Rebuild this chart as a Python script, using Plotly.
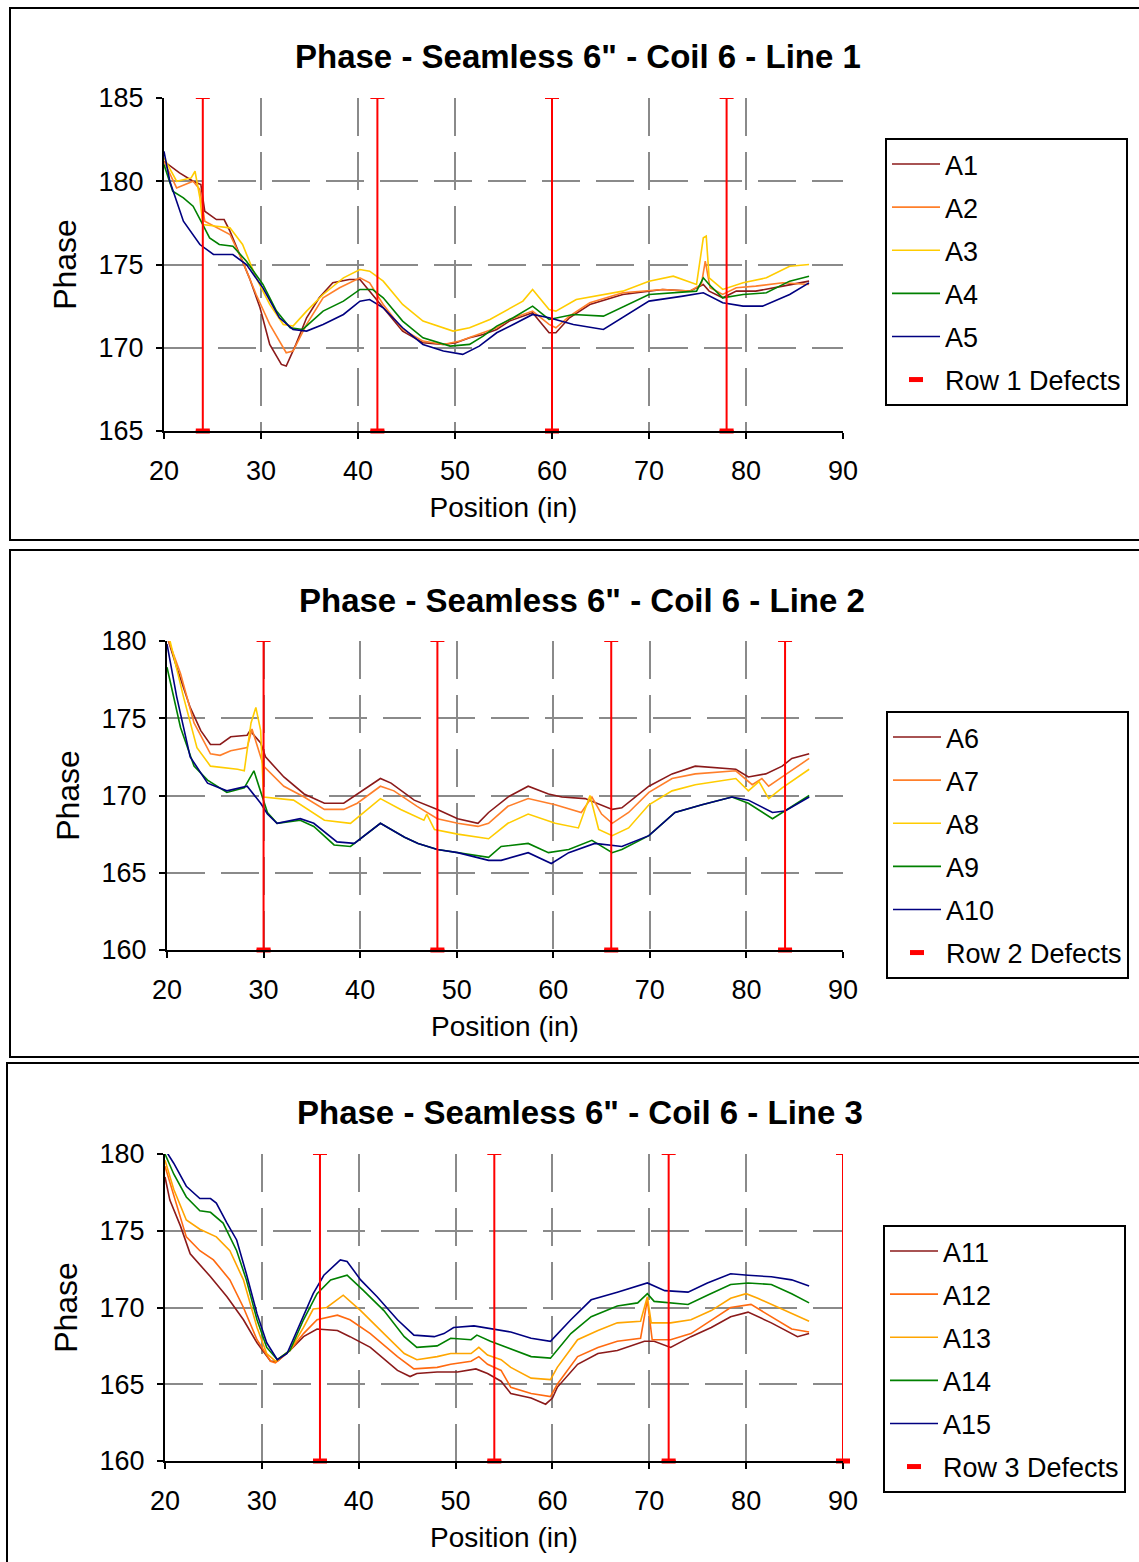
import plotly.graph_objects as go

W, H = 1139, 1562

# ---------------- data ----------------
TITLES = ['Phase - Seamless 6" - Coil 6 - Line 1',
          'Phase - Seamless 6" - Coil 6 - Line 2',
          'Phase - Seamless 6" - Coil 6 - Line 3']
X_TICKS = [20, 30, 40, 50, 60, 70, 80, 90]
Y_RANGES = [(165, 185), (160, 180), (160, 180)]

# Line 1
A1_X = [20, 21.6, 23, 23.8, 24.2, 25.4, 26.2, 26.8, 27.8, 28.8, 29.9, 30.9, 32.1, 32.6, 33.6, 34.7, 36, 37.4, 39.1, 40.2, 41.2, 42.6, 44.6, 46.7, 48.8, 50.1, 51.5, 52.9, 54.3, 55.6, 58, 59.7, 60.4, 61.8, 63.9, 67.3, 71.4, 74.2, 75.6, 76.2, 77.6, 79, 81, 83.8, 86.5]
A1_Y = [181.2, 180.5, 180, 179.8, 178.2, 177.7, 177.7, 177, 175.6, 174.2, 172.4, 170.2, 169, 168.9, 170.2, 171.8, 173, 173.9, 174.1, 174.1, 173.4, 172.4, 171, 170.3, 170.2, 170.3, 170.6, 170.8, 171.1, 171.6, 172.1, 170.9, 170.9, 171.8, 172.6, 173.2, 173.5, 173.4, 173.8, 173.4, 173, 173.4, 173.4, 173.7, 174]
A2_X = [20, 21.3, 23, 23.7, 24.2, 26.8, 28.1, 29.5, 30.9, 32.6, 33.3, 34.7, 36.4, 38.1, 40.2, 41.2, 42.6, 44.6, 46.7, 48.8, 50.5, 52.9, 54.3, 55.6, 58, 59.7, 60.4, 61.8, 63.9, 67.3, 71.4, 74.2, 75.4, 75.8, 76.3, 77.6, 79, 81, 83.8, 86.5]
A2_Y = [181.2, 179.6, 180, 179.5, 177.6, 176.8, 175.2, 173.2, 171.4, 169.7, 169.8, 171.4, 173, 173.6, 174.2, 173.9, 172.6, 171.1, 170.4, 170.2, 170.4, 170.9, 171.2, 171.7, 172.2, 171.4, 171.2, 171.9, 172.7, 173.3, 173.5, 173.4, 173.8, 175.2, 173.6, 173.2, 173.6, 173.7, 173.9, 173.8]
A3_X = [20, 21.3, 22.8, 23.2, 23.7, 24, 25.4, 26.8, 28.1, 29.5, 30.9, 32.3, 33.3, 34.7, 36.4, 38.5, 40.2, 41.2, 42.6, 44.6, 46.7, 48.8, 49.8, 51.5, 53.6, 57, 58, 59.7, 60.4, 62.5, 67.3, 70, 72.5, 74.9, 75.6, 75.9, 76.2, 77.6, 79.7, 82.1, 84.5, 86.5]
A3_Y = [181.4, 180, 180.2, 180.6, 179, 177.4, 177.3, 177.2, 176.2, 174.2, 172.6, 171.4, 171.3, 172.2, 173.2, 174.2, 174.7, 174.6, 174, 172.6, 171.6, 171.2, 171, 171.2, 171.7, 172.8, 173.5, 172.3, 172.2, 172.9, 173.4, 174, 174.3, 173.8, 176.6, 176.7, 174.2, 173.5, 173.9, 174.2, 174.9, 175]
A4_X = [20, 20.9, 22, 23, 24, 24.7, 25.7, 27.1, 28.5, 30.2, 31.6, 33, 34.3, 36.4, 38.5, 40.2, 41.5, 42.6, 44.6, 46.7, 49.5, 51.5, 52.9, 54.3, 56, 58, 59.7, 62.2, 65.3, 70, 74.9, 75.6, 76.2, 77.6, 79.7, 82.1, 84.5, 86.5]
A4_Y = [181, 179.4, 179, 178.5, 177.4, 176.6, 176.2, 176.1, 175.2, 173.8, 172.2, 171.2, 171.1, 172.2, 172.8, 173.5, 173.5, 173, 171.6, 170.6, 170.1, 170.2, 170.7, 171.3, 171.8, 172.5, 171.7, 172, 171.9, 173.2, 173.4, 174.2, 173.8, 173, 173.2, 173.3, 174, 174.3]
A5_X = [20, 20.6, 22, 23.7, 25.1, 27.1, 28.5, 30.2, 31.9, 33.3, 34.7, 36.4, 38.5, 40.2, 41.2, 42.6, 44.6, 46.7, 48.8, 50.8, 52.5, 54.3, 56, 58, 59.7, 62.2, 65.3, 70, 73.5, 75.6, 77.6, 79.7, 81.7, 84.5, 86.5]
A5_Y = [181.8, 180, 177.6, 176.2, 175.6, 175.6, 175, 173.6, 171.8, 171.1, 171, 171.4, 172, 172.8, 172.9, 172.4, 171.2, 170.2, 169.8, 169.6, 170.1, 170.9, 171.4, 172, 171.8, 171.4, 171.1, 172.8, 173.1, 173.3, 172.7, 172.5, 172.5, 173.2, 173.9]

# Line 2
A6_X = [20, 21, 22.4, 23.5, 24.5, 25.5, 26.6, 28.3, 28.6, 29.7, 30.2, 32.1, 34.2, 36.3, 38.3, 39.7, 42.1, 43.2, 45.6, 48, 50.1, 52.2, 53.3, 55.3, 57.4, 59.5, 60.9, 63.3, 66.1, 67.1, 69.9, 72.3, 74.7, 78.9, 80.2, 82, 83.7, 84.7, 86.5]
A6_Y = [180.3, 178.3, 175.7, 174.2, 173.3, 173.3, 173.8, 173.9, 174.2, 173.4, 172.5, 171.2, 170.1, 169.5, 169.5, 170.1, 171.1, 170.8, 169.7, 169.1, 168.5, 168.2, 168.9, 169.9, 170.6, 170.1, 169.9, 169.8, 169.1, 169.2, 170.6, 171.4, 171.9, 171.7, 171.2, 171.4, 171.9, 172.4, 172.7]
A7_X = [20, 21.4, 22.8, 24.5, 25.5, 26.6, 28.3, 28.8, 30, 32.1, 34.2, 36.3, 38.3, 39.7, 42.1, 43.5, 45.9, 48, 50.1, 52.2, 53.3, 55.3, 57.4, 60.2, 62.9, 64, 65, 66.1, 67.8, 69.9, 72.3, 74.7, 78.9, 80.6, 81.6, 82.3, 83.7, 86.5]
A7_Y = [180.3, 177.9, 174.7, 172.7, 172.6, 172.9, 173.1, 174.3, 171.9, 170.6, 169.9, 169.1, 169.1, 169.5, 170.6, 170.3, 169.3, 168.5, 168.2, 168, 168.2, 169.3, 169.8, 169.4, 168.9, 169.9, 168.8, 168.2, 168.9, 170.2, 171.1, 171.4, 171.6, 170.7, 171.1, 170.6, 171.2, 172.4]
A8_X = [20.2, 20.7, 21.7, 23.1, 24.5, 27.3, 28, 28.7, 29.2, 29.7, 30, 33.1, 36.3, 39, 42.1, 44.2, 46.6, 46.9, 47.7, 50.1, 52.2, 53.3, 55.3, 57.4, 60.2, 62.6, 63.8, 64.7, 66.1, 67.8, 69.9, 72.3, 74.7, 78.9, 80.2, 81.3, 82.3, 83.7, 86.5]
A8_Y = [180.3, 179, 176.4, 173.1, 171.9, 171.7, 171.6, 174.7, 175.7, 174.2, 169.9, 169.7, 168.4, 168.2, 169.8, 169.1, 168.4, 168.8, 167.8, 167.5, 167.3, 167.2, 168.2, 168.8, 168.2, 167.9, 170, 167.8, 167.4, 167.9, 169.4, 170.3, 170.7, 171.1, 170.3, 170.9, 169.8, 170.5, 171.7]
A9_X = [20, 21.4, 22.8, 24.2, 26.2, 28, 29, 29.7, 30.4, 31.4, 33.8, 35.2, 37.3, 39, 42.1, 44.6, 46, 48, 50.1, 53.3, 54.6, 57.4, 59.5, 61.6, 64, 66.1, 67.1, 69.9, 72.6, 75.4, 78.5, 80.2, 82.7, 83.7, 85.4, 86.5]
A9_Y = [178.3, 174.4, 171.9, 171, 170.2, 170.5, 171.6, 170.3, 168.9, 168.2, 168.4, 168, 166.8, 166.7, 168.2, 167.3, 166.9, 166.5, 166.3, 166, 166.7, 166.9, 166.3, 166.5, 167.1, 166.3, 166.5, 167.4, 168.9, 169.4, 169.9, 169.5, 168.5, 168.9, 169.6, 170]
A10_X = [20, 21, 22.4, 24.2, 26.2, 28.3, 29.7, 30.4, 31.4, 33.8, 35.2, 37.6, 39.4, 42.1, 44.6, 46, 48, 50.1, 53.3, 54.6, 57.4, 59.8, 61.6, 64.3, 67.1, 69.9, 72.6, 75.4, 78.5, 80.2, 82.7, 84, 86.5]
A10_Y = [179.8, 176.4, 172.5, 170.8, 170.3, 170.6, 169.5, 168.8, 168.2, 168.5, 168.2, 167, 166.9, 168.2, 167.3, 166.9, 166.5, 166.3, 165.8, 165.8, 166.3, 165.6, 166.3, 166.9, 166.7, 167.4, 168.9, 169.4, 169.9, 169.7, 168.9, 169, 169.9]

# Line 3
A11_X = [20, 20.5, 21.6, 22.6, 24.7, 26.4, 28.1, 29.5, 30.9, 31.6, 32.9, 34.3, 35.7, 37.8, 39.1, 41.2, 44, 45.3, 46, 48.1, 50.2, 52.1, 53.3, 54.7, 55.7, 57.8, 59.3, 60, 60.5, 62.6, 64.7, 66.7, 69.5, 70.5, 72.2, 74.3, 76.4, 78.4, 80.2, 82.6, 85.3, 86.5]
A11_Y = [178.5, 177, 175.3, 173.5, 172, 170.7, 169.2, 167.7, 166.5, 166.5, 167.2, 168.1, 168.6, 168.5, 168.1, 167.4, 165.9, 165.5, 165.7, 165.8, 165.8, 166, 165.7, 165.2, 164.4, 164.1, 163.7, 164.1, 164.8, 166.3, 167, 167.2, 167.8, 167.8, 167.4, 168.1, 168.7, 169.4, 169.7, 169, 168.1, 168.3]
A12_X = [20, 21.2, 22.2, 23.6, 25, 26.7, 28.1, 29.5, 30.9, 31.4, 32.9, 34.3, 35.7, 37.8, 39.1, 41.2, 44, 45.7, 48.1, 49.5, 51.6, 52.4, 53.3, 54.7, 55.7, 57.8, 59.8, 60.5, 62.6, 64.7, 66.7, 69.1, 69.8, 70.3, 72.2, 74.3, 76.4, 78.4, 80.5, 82.6, 84.7, 86.5]
A12_Y = [179.2, 176.6, 174.6, 173.7, 173.1, 171.8, 170, 167.9, 166.5, 166.4, 167.2, 168.3, 169.2, 169.5, 169.2, 168.3, 166.8, 166, 166.1, 166.3, 166.5, 166.8, 166.3, 165.9, 164.8, 164.4, 164.2, 165, 166.8, 167.4, 167.8, 168, 170.5, 167.9, 167.9, 168.3, 169.2, 170, 170.2, 169.4, 168.6, 168.4]
A13_X = [20, 20.9, 22.2, 23.6, 25.3, 26.7, 28.1, 29.5, 30.5, 31.4, 32.9, 34.3, 35.3, 36.7, 38.4, 40.2, 42.6, 44.7, 46, 48.1, 49.5, 51.6, 52.4, 53.3, 54.7, 55.7, 57.8, 59.8, 60.5, 62.6, 64.7, 66.7, 69.1, 69.8, 70.2, 72.2, 74.3, 76.4, 78.4, 80, 81.2, 83.3, 85.3, 86.5]
A13_Y = [179.6, 177.7, 175.7, 175.1, 174.6, 173.7, 171.8, 168.7, 167, 166.5, 167.2, 168.7, 169.9, 170, 170.8, 169.8, 168.3, 167, 166.6, 166.8, 167, 167, 167.4, 166.9, 166.6, 166.1, 165.4, 165.3, 166.1, 167.9, 168.5, 169, 169.1, 170.7, 169, 169, 169.2, 169.8, 170.6, 170.9, 170.6, 170, 169.4, 169.1]
A14_X = [20, 20.9, 22.2, 23.6, 24.7, 26, 27.4, 28.4, 29.5, 30.5, 31.6, 32.9, 34.3, 35.7, 37.1, 38.8, 40.5, 42.6, 44.7, 46, 48.1, 49.5, 51.6, 52.2, 53.6, 55.7, 57.8, 59.8, 61.9, 64, 66.7, 68.8, 69.8, 70.5, 74, 76, 78.4, 80.2, 82.6, 84.7, 86.5]
A14_Y = [180, 178.7, 177.2, 176.3, 176.2, 175.5, 173.7, 171.8, 169.2, 167.4, 166.6, 167.2, 169.2, 170.9, 171.8, 172.1, 171.1, 169.8, 168.1, 167.4, 167.5, 168, 167.9, 168.2, 167.8, 167.3, 166.8, 166.7, 168.3, 169.4, 170.1, 170.3, 170.9, 170.4, 170.2, 170.8, 171.5, 171.6, 171.5, 170.9, 170.3]
A15_X = [20, 20.9, 22.2, 23.6, 24.7, 25.3, 26.4, 27.4, 28.4, 29.5, 30.5, 31.6, 32.6, 34, 35.3, 36.4, 38.1, 38.8, 40.2, 41.9, 44, 45.7, 47.8, 48.8, 49.8, 51.9, 53.6, 55.7, 57.8, 59.8, 61.9, 64, 66.7, 69.8, 71.6, 74, 76, 78.4, 80.2, 82.6, 84.7, 86.5]
A15_Y = [180.3, 179.4, 177.9, 177.1, 177.1, 176.8, 175.5, 174.4, 172.2, 169.6, 167.7, 166.6, 167, 169, 170.9, 172.1, 173.1, 173, 171.8, 170.7, 169.2, 168.2, 168.1, 168.3, 168.7, 168.8, 168.6, 168.4, 168, 167.8, 169.2, 170.5, 171, 171.6, 171.1, 171, 171.6, 172.2, 172.1, 172, 171.8, 171.4]

DEFECT_NAMES = ["Row 1 Defects", "Row 2 Defects", "Row 3 Defects"]
DEFECT_X = [[24, 42, 60, 78], [30, 48, 66, 84], [36, 54, 72, 90]]

SERIES = [
    [("A1", A1_X, A1_Y), ("A2", A2_X, A2_Y), ("A3", A3_X, A3_Y), ("A4", A4_X, A4_Y), ("A5", A5_X, A5_Y)],
    [("A6", A6_X, A6_Y), ("A7", A7_X, A7_Y), ("A8", A8_X, A8_Y), ("A9", A9_X, A9_Y), ("A10", A10_X, A10_Y)],
    [("A11", A11_X, A11_Y), ("A12", A12_X, A12_Y), ("A13", A13_X, A13_Y), ("A14", A14_X, A14_Y), ("A15", A15_X, A15_Y)],
]
COLORS = [
    ["#8B1A1A", "#FF7F2A", "#FFCC00", "#008000", "#000080"],
    ["#8B1A1A", "#FF7F2A", "#FFCC00", "#008000", "#000080"],
    ["#8B1A1A", "#FF6A10", "#FFA500", "#008000", "#000080"],
]

# ---------------- layout geometry (pixels) ----------------
FONT = "Liberation Sans, Arial, sans-serif"
PLOT_PX = [  # left, right, top, bottom
    (164, 843, 98, 431),
    (167, 843, 641, 950),
    (165, 843, 1154, 1461),
]
BOX_PX = [(10, 8, 540), (10, 550, 1057), (7, 1063, 1566)]
TITLE_PX = [(578, 57), (582, 600), (580, 1112)]
LEGEND_PX = [(885, 138), (886, 711), (883, 1225)]


def px(x):
    return x / W


def py(y):
    return 1 - y / H


fig = go.Figure()
shapes = []
annotations = []
layout = {}

for i in range(3):
    sfx = "" if i == 0 else str(i + 1)
    xa, ya = "x" + sfx, "y" + sfx
    leg = "legend" + sfx
    for j, (name, xs, ys) in enumerate(SERIES[i]):
        fig.add_trace(go.Scatter(
            x=xs, y=ys, mode="lines", name=name,
            line=dict(color=COLORS[i][j], width=1.6),
            xaxis=xa, yaxis=ya, legend=leg, legendgroup=f"g{i}_{j}",
        ))
    ylo, yhi = Y_RANGES[i]
    fig.add_trace(go.Scatter(
        x=DEFECT_X[i], y=[ylo] * len(DEFECT_X[i]), mode="markers",
        name=DEFECT_NAMES[i], xaxis=xa, yaxis=ya, legend=leg, legendgroup=f"d{i}",
        marker=dict(symbol="line-ew", size=10, color="red", line=dict(color="red", width=5)),
        error_y=dict(type="data", symmetric=False,
                     array=[yhi - ylo] * len(DEFECT_X[i]),
                     arrayminus=[0] * len(DEFECT_X[i]),
                     color="red", thickness=2, width=7),
        cliponaxis=False,
    ))

    l, r, t, b = PLOT_PX[i]
    common = dict(
        showline=True, linecolor="black", linewidth=2,
        ticks="outside", ticklen=6, tickwidth=2, tickcolor="black",
        showgrid=True, gridcolor="#8a8a8a", gridwidth=2, griddash="38px,16px",
        zeroline=False, automargin=False,
        tickfont=dict(family=FONT, size=27, color="black"),
    )
    layout["xaxis" + sfx] = dict(
        common, domain=[px(l), px(r)], anchor=ya, range=[20, 90],
        tickvals=X_TICKS, ticktext=[str(v) for v in X_TICKS],
        title=dict(text="Position (in)", font=dict(family=FONT, size=28, color="black"), standoff=12),
        ticklabelstandoff=9,
    )
    layout["yaxis" + sfx] = dict(
        common, domain=[py(b), py(t)], anchor=xa, range=[ylo, yhi], dtick=5,
        title=dict(text="Phase", font=dict(family=FONT, size=32, color="black"), standoff=12),
        ticklabelstandoff=7,
    )
    lx, ly = LEGEND_PX[i]
    layout[leg] = dict(
        x=px(lx), y=py(ly), xanchor="left", yanchor="top",
        bordercolor="black", borderwidth=2, bgcolor="white",
        font=dict(family=FONT, size=27, color="black"),
        tracegroupgap=5, itemwidth=48,
    )
    bx, by0, by1 = BOX_PX[i]
    shapes.append(dict(type="rect", xref="paper", yref="paper",
                       x0=px(bx), x1=1.05, y0=py(by1), y1=py(by0),
                       line=dict(color="black", width=2), layer="below"))
    tx, ty = TITLE_PX[i]
    annotations.append(dict(text="<b>" + TITLES[i] + "</b>", xref="paper", yref="paper",
                            x=px(tx), y=py(ty), xanchor="center", yanchor="middle",
                            showarrow=False, font=dict(family=FONT, size=33, color="black")))

fig.update_layout(
    width=W, height=H, margin=dict(l=0, r=0, t=0, b=0),
    paper_bgcolor="white", plot_bgcolor="white",
    shapes=shapes, annotations=annotations, showlegend=True,
    **layout,
)

fig.write_html("out.html")
